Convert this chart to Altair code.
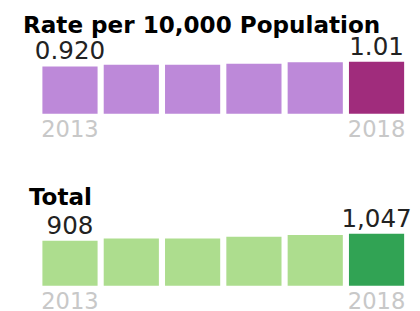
import altair as alt
import pandas as pd

years = ["2013", "2014", "2015", "2016", "2017", "2018"]
rate_values = [0.920, 0.95, 0.95, 0.97, 1.00, 1.01]
rate_labels = ["0.920", "", "", "", "", "1.01"]
total_values = [908, 950, 952, 985, 1020, 1047]
total_labels = ["908", "", "", "", "", "1,047"]
rate_colors = ["#bd89d9", "#a02c7c"]
total_colors = ["#addd8e", "#31a354"]
kinds = ["base", "base", "base", "base", "base", "last"]

FONT = "DejaVu Sans"


def panel(title, values, labels, colors):
    df = pd.DataFrame({"year": years, "value": values, "label": labels, "kind": kinds})
    x = alt.X(
        "year:N",
        scale=alt.Scale(paddingInner=0.1, paddingOuter=0),
        axis=alt.Axis(
            title=None, domain=False, ticks=False, labelAngle=0,
            labelExpr="datum.value == '2013' || datum.value == '2018' ? datum.value : ''",
            labelColor="#c8c8c8", labelFontSize=23, labelFont=FONT,
            labelPadding=5, labelOverlap=False,
        ),
    )
    y = alt.Y("value:Q", scale=alt.Scale(domain=[0, max(values)]), axis=None)
    base = alt.Chart(df)
    bars = base.mark_bar().encode(
        x=x, y=y,
        color=alt.Color("kind:N", scale=alt.Scale(domain=["base", "last"], range=colors), legend=None),
    )
    text = base.mark_text(
        baseline="alphabetic", dy=-7, fontSize=25, font=FONT, color="#222222"
    ).encode(x=x, y=y, text="label:N")
    return alt.layer(bars, text).properties(
        width=368, height=53,
        title=alt.TitleParams(
            title, anchor="start", fontSize=23.5, font=FONT, fontWeight="bold",
            color="#000000", dx=-12, offset=-21.5, baseline="alphabetic",
        ),
    )


p1 = panel("Rate per 10,000 Population", rate_values, rate_labels, rate_colors)
p2 = panel("Total", total_values, total_labels, total_colors)

chart = (
    alt.vconcat(p1, p2, spacing=46)
    .resolve_scale(color="independent")
    .configure_view(stroke=None)
    .properties(padding={"left": 15, "top": 4, "right": 0, "bottom": 0})
)

chart.save("out.html", embed_options={"renderer": "svg", "actions": False})
